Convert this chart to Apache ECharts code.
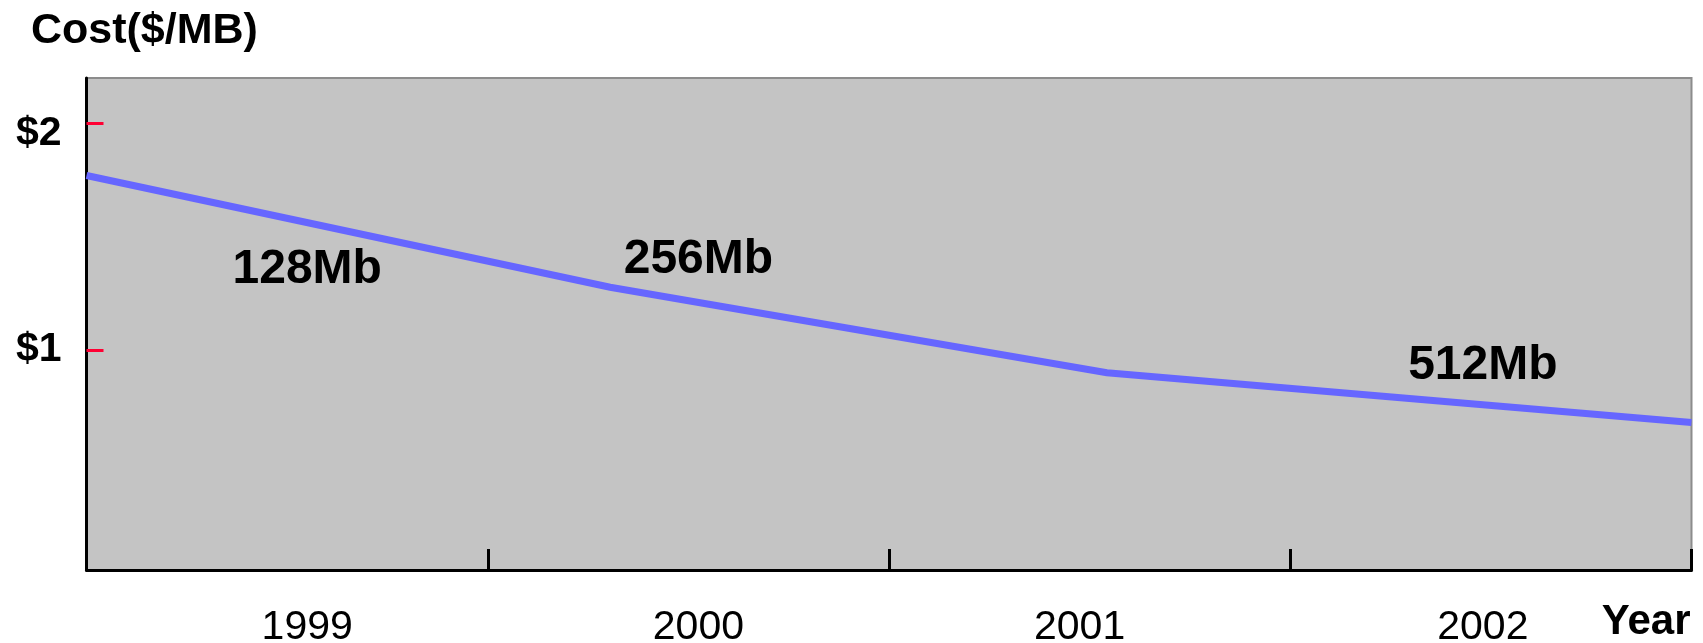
<!DOCTYPE html>
<html>
<head>
<meta charset="utf-8">
<title>Cost($/MB)</title>
<script src="https://cdn.jsdelivr.net/npm/echarts@6/dist/echarts.min.js"></script>
<style>
  html, body { margin: 0; padding: 0; background: #ffffff; }
  #chart { width: 1703px; height: 643px; }
</style>
</head>
<body>
<div id="chart"></div>
<script>
// Memory price per megabyte, with the chip generation in use over each stretch
var costPoints = [
  [1998.5, 1.77],
  [1999.805, 1.277],
  [2001.043, 0.90],
  [2002.5, 0.681]
];

// Year labels and where they sit along the time axis
var yearLabels = ['1999', '2000', '2001', '2002'];
var yearLabelAt = [1999.05, 2000.025, 2000.975, 2001.98];

// Boundaries between the years (tick marks)
var yearTicks = [1999.5, 2000.5, 2001.5, 2002.5];

// Cost tick values and their labels
var costTicks = [1, 2];
var costTickLabels = ['$1', '$2'];

// Chip generation captions, anchored in data space
var chipLabels = ['128Mb', '256Mb', '512Mb'];
var chipLabelX = [1999.05, 2000.025, 2001.98];
var chipLabelY = [1.352, 1.40, 0.929];

var FONT = "'Liberation Sans', Arial, Helvetica, sans-serif";
var PLOT_BG = '#c4c4c4';

var chipData = chipLabels.map(function (name, i) {
  return { value: [chipLabelX[i], chipLabelY[i]], name: name };
});

var chart = echarts.init(document.getElementById('chart'), null, { renderer: 'canvas' });

chart.setOption({
  animation: false,
  backgroundColor: '#ffffff',
  title: {
    text: 'Cost($/MB)',
    left: 31,
    top: 10,
    padding: 0,
    textStyle: {
      fontFamily: FONT,
      fontSize: 43,
      fontWeight: 'bold',
      color: '#000000',
      lineHeight: 43
    }
  },
  grid: {
    left: 86.5,
    right: 11.5,
    top: 78,
    bottom: 73,
    containLabel: false,
    outerBoundsMode: 'none',
    show: true,
    backgroundColor: PLOT_BG,
    borderColor: '#8c8c8c',
    borderWidth: 2
  },
  xAxis: {
    type: 'value',
    min: 1998.5,
    max: 2002.5,
    name: 'Year',
    nameLocation: 'end',
    nameGap: -1,
    nameTextStyle: {
      fontFamily: FONT,
      fontSize: 42,
      fontWeight: 'bold',
      color: '#000000',
      align: 'right',
      verticalAlign: 'top',
      lineHeight: 42,
      padding: [31, 0, 0, 0]
    },
    axisLine: { show: true, onZero: false, lineStyle: { color: '#000000', width: 3 } },
    axisTick: {
      show: true,
      inside: true,
      length: 21,
      customValues: yearTicks,
      lineStyle: { color: '#000000', width: 3 }
    },
    axisLabel: {
      show: true,
      customValues: yearLabelAt,
      margin: 37,
      fontFamily: FONT,
      fontSize: 41,
      color: '#000000',
      lineHeight: 41,
      formatter: function (v) {
        var best = 0;
        for (var i = 1; i < yearLabelAt.length; i++) {
          if (Math.abs(yearLabelAt[i] - v) < Math.abs(yearLabelAt[best] - v)) best = i;
        }
        return yearLabels[best];
      }
    },
    splitLine: { show: false }
  },
  yAxis: {
    type: 'value',
    min: 0.03,
    max: 2.2,
    axisLine: { show: true, onZero: false, lineStyle: { color: '#000000', width: 3 } },
    axisTick: {
      show: true,
      inside: true,
      length: 17,
      customValues: costTicks,
      lineStyle: { color: '#ff0033', width: 3 }
    },
    axisLabel: {
      show: true,
      customValues: costTicks,
      margin: 25,
      fontFamily: FONT,
      fontSize: 41,
      fontWeight: 'bold',
      color: '#000000',
      formatter: function (v) {
        var i = costTicks.indexOf(Math.round(v));
        return i === costTicks.length - 1 ? '{low|' + costTickLabels[i] + '}' : '{std|' + costTickLabels[i] + '}';
      },
      rich: {
        std: { fontFamily: FONT, fontSize: 41, fontWeight: 'bold', color: '#000000', lineHeight: 41 },
        low: { fontFamily: FONT, fontSize: 41, fontWeight: 'bold', color: '#000000', lineHeight: 41, padding: [20, 0, 0, 0] }
      }
    },
    splitLine: { show: false }
  },
  series: [
    {
      name: 'Cost',
      type: 'line',
      data: costPoints,
      showSymbol: false,
      symbol: 'none',
      clip: false,
      lineStyle: { color: '#6666ff', width: 7, cap: 'butt', join: 'miter' },
      z: 3
    },
    {
      name: 'Chip',
      type: 'scatter',
      data: chipData,
      symbol: 'circle',
      symbolSize: 1,
      itemStyle: { color: PLOT_BG, opacity: 1 },
      silent: true,
      label: {
        show: true,
        position: 'inside',
        formatter: '{b}',
        align: 'center',
        verticalAlign: 'middle',
        fontFamily: FONT,
        fontSize: 48,
        fontWeight: 'bold',
        color: '#000000',
        opacity: 1,
        textBorderWidth: 0,
        lineHeight: 48
      },
      z: 4
    }
  ]
});
</script>
</body>
</html>
